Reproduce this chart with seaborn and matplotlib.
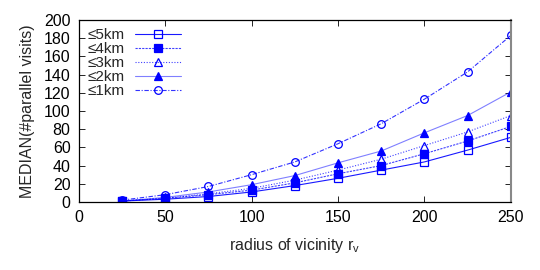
import matplotlib
matplotlib.use("Agg")
import matplotlib.pyplot as plt
import seaborn as sns
import pandas as pd

radius = [25, 50, 75, 100, 125, 150, 175, 200, 225, 250]
km5 = [1, 3, 6, 11, 18, 26, 35, 44, 57, 71]
km4 = [1, 4, 8, 13, 21, 31, 40, 53, 67, 83]
km3 = [1, 4, 9, 15, 24, 35, 47, 62, 77, 95]
km2 = [1, 5, 11, 19, 29, 43, 56, 76, 95, 121]
km1 = [2, 8, 17, 30, 44, 64, 86, 113, 143, 183]
labels = ["≤5km", "≤4km", "≤3km", "≤2km", "≤1km"]
series = [km5, km4, km3, km2, km1]

sns.set_style("ticks")
plt.rcParams['font.family'] = ['Liberation Sans', 'DejaVu Sans']
plt.rcParams['font.size'] = 11

fig = plt.figure(figsize=(5.4, 2.7), dpi=100)
ax = fig.add_axes([0.146, 0.252, 0.8, 0.674])

styles = [
    dict(marker='s', mfc='none', ls='-', alpha=0.9),
    dict(marker='s', mfc='#0000ff', ls=(0, (2, 1)), alpha=0.75),
    dict(marker='^', mfc='none', ls=(0, (1, 1.5)), alpha=0.75),
    dict(marker='^', mfc='#0000ff', ls='-', alpha=0.5),
    dict(marker='o', mfc='none', ls=(0, (4, 1.5, 1, 1.5)), alpha=0.8),
]
for lab, vals, st in zip(labels, series, styles):
    df = pd.DataFrame({"r": radius, "v": vals})
    sns.lineplot(data=df, x="r", y="v", ax=ax, color='#0000ff', lw=0.8,
                 linestyle=st['ls'], marker=st['marker'], markersize=5.5,
                 markerfacecolor=st['mfc'], markeredgecolor='#0000ff',
                 markeredgewidth=0.9, label=lab)
    l = ax.lines[-1]
    l.set_color((0, 0, 1, st['alpha']))
    l.set_markeredgecolor('#0000ff')
    if st['mfc'] != 'none':
        l.set_markerfacecolor('#0000ff')

ax.set_xlim(0, 250)
ax.set_ylim(0, 200)
ax.set_xticks(range(0, 251, 50))
ax.set_yticks(range(0, 201, 20))
ax.tick_params(direction='in', top=True, right=True, length=4, width=0.6,
               labelsize=11.5, colors='black', pad=6)
for s in ax.spines.values():
    s.set_linewidth(0.9)
    s.set_color('black')
ax.spines['right'].set_color('#888888')
ax.spines['right'].set_linewidth(1.5)
ax.set_xlabel("radius of vicinity r$_\\mathregular{v}$", fontsize=11.5, labelpad=8)
ax.set_ylabel("MEDIAN(#parallel visits)", fontsize=11.5, labelpad=6)
leg = ax.legend(loc='upper left', markerfirst=False, frameon=False,
                handlelength=3.0, handletextpad=0.7, labelspacing=0.0,
                borderaxespad=0.15, fontsize=11)
fig.savefig("out.png", dpi=100)
